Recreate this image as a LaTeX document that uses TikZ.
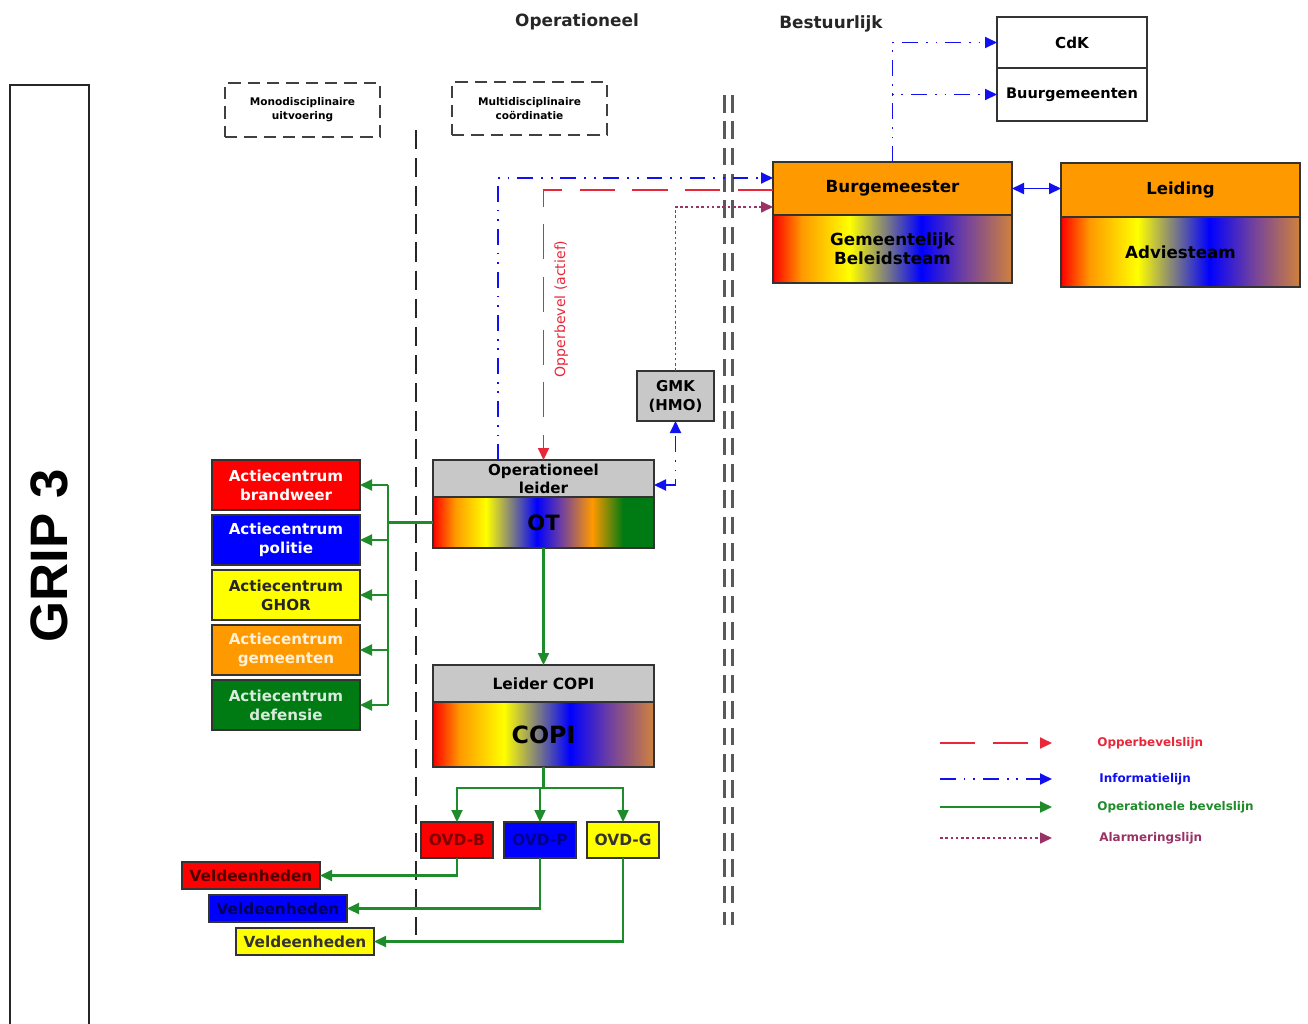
\documentclass[tikz,border=0pt]{standalone}
\usepackage{fontspec}
\setmainfont{DejaVu Sans}
\newfontfamily\gripfont{Liberation Sans}
\usetikzlibrary{arrows.meta}
\usetikzlibrary{positioning}
\newcommand{\txtsize}[2]% size, skip
{\fontsize{#1}{#2}\selectfont}
\definecolor{orng}{HTML}{FF9900}
\definecolor{boxgray}{HTML}{C8C8C8}
\definecolor{acred}{HTML}{FF0000}
\definecolor{acblue}{HTML}{0000FF}
\definecolor{acyellow}{HTML}{FFFF00}
\definecolor{acgreen}{HTML}{007A12}
\definecolor{shpurple}{HTML}{7040A0}
\definecolor{brwn}{HTML}{D0823C}
\definecolor{cmdred}{HTML}{E8283A}
\definecolor{infoblue}{HTML}{1010F0}
\definecolor{opgreen}{HTML}{1E8C2A}
\definecolor{alarmpurple}{HTML}{993366}
\pgfdeclarehorizontalshading{teamshade}{100bp}{color(0bp)=(acred); color(25bp)=(acred); color(31bp)=(orng); color(41bp)=(acyellow); color(56bp)=(acblue); color(65bp)=(shpurple); color(75bp)=(brwn); color(100bp)=(brwn)}
\pgfdeclarehorizontalshading{otshade}{100bp}{color(0bp)=(acred); color(25bp)=(acred); color(30bp)=(orng); color(37bp)=(acyellow); color(48.5bp)=(acblue); color(54bp)=(shpurple); color(61bp)=(orng); color(68bp)=(acgreen); color(100bp)=(acgreen)}

\begin{document}
\begin{tikzpicture}[x=0.2mm, y=-0.2mm, >={Triangle[length=2.4mm,width=2.2mm]},
	box/.style={draw=black!80, line width=1pt, inner sep=0pt, outer sep=0pt, align=center, font=\bfseries\txtsize{8.6}{10.8}},
	acbox/.style={box, minimum width=29.6mm, minimum height=10mm},
	ovdbox/.style={box, minimum width=14.4mm, minimum height=7.2mm, font=\bfseries\txtsize{8.8}{10}},
	veldbox/.style={box, minimum width=27.6mm, minimum height=5.4mm, font=\bfseries\txtsize{8.7}{10}},
	dbox/.style={draw=black!75, line width=1pt, dash pattern=on 7pt off 4pt, inner sep=0pt, align=center, minimum width=31mm, minimum height=10.7mm, font=\bfseries\txtsize{6}{8}},
	head/.style={text=black!85, font=\bfseries\txtsize{9.6}{11}},
	lgd/.style={anchor=west, inner sep=0pt, font=\bfseries\txtsize{6.8}{8}},
	cmdline/.style={draw=cmdred, line width=1.1pt, dash pattern=on 20pt off 10pt, ->},
	infoline/.style={draw=infoblue, line width=1.1pt, dash pattern=on 9pt off 4.5pt on 1pt off 4.5pt on 1pt off 4.5pt, ->},
	opline/.style={draw=opgreen, line width=1.2pt, ->},
	alarmline/.style={draw=alarmpurple, line width=0.9pt, dash pattern=on 1.5pt off 1.5pt, ->}]
	\useasboundingbox (0,0) rectangle (1308,1023);
	\node[draw=black!85, line width=1.1pt, rotate=90, minimum width=188.4mm, minimum height=15.8mm, font=\gripfont\bfseries\txtsize{30}{34}] (grip) at (49.5,556) {GRIP 3};
	\node[head] (hdop) at (577,22) {Operationeel};
	\node[head] (hdbest) at (831,24) {Bestuurlijk};
	\node[dbox] (mono) at (302.5,110) {Monodisciplinaire\\uitvoering};
	\node[dbox] (multi) at (529.5,108.5) {Multidisciplinaire\\coördinatie};
	\draw[black!85, line width=1.1pt, dash pattern=on 11pt off 5pt] (416,130) -- (416,935);
	\draw[black!65, line width=1.7pt, dash pattern=on 10pt off 5pt] (724,95) -- (724,925);
	\draw[black!65, line width=1.7pt, dash pattern=on 10pt off 5pt] (732,95) -- (732,925);
	% bestuurlijk
	\node[box, minimum width=30mm, minimum height=10.2mm, font=\bfseries\txtsize{8.6}{10}] (cdk) at (1072,42.5) {CdK};
	\node[box, minimum width=30mm, minimum height=10.6mm, font=\bfseries\txtsize{8.3}{10}, below=0pt of cdk] (buur) {Buurgemeenten};
	\node[box, fill=orng, minimum width=47.8mm, minimum height=10.6mm, font=\bfseries\txtsize{9.5}{10.8}] (burg) at (892.5,188.5) {Burgemeester};
	\node[box, shade, shading=teamshade, minimum width=47.8mm, minimum height=13.6mm, font=\bfseries\txtsize{9.5}{10.8}, below=0pt of burg] (gbt) {Gemeentelijk\\Beleidsteam};
	\node[box, fill=orng, minimum width=47.8mm, minimum height=10.8mm, font=\bfseries\txtsize{9.4}{10.8}] (leid) at (1180.5,190) {Leiding};
	\node[box, shade, shading=teamshade, minimum width=47.8mm, minimum height=14mm, font=\bfseries\txtsize{9.5}{10.8}, below=0pt of leid] (advies) {Adviesteam};
	% operationeel
	\node[box, fill=boxgray, minimum width=15.4mm, minimum height=10mm, font=\bfseries\txtsize{8.5}{10.8}] (gmk) at (675.5,396) {GMK\\(HMO)};
	\node[box, fill=boxgray, minimum width=44.2mm, minimum height=7.4mm, font=\bfseries\txtsize{8.6}{10.2}] (ol) at (543.5,478.5) {Operationeel\\leider};
	\node[box, shade, shading=otshade, minimum width=44.2mm, minimum height=10.2mm, font=\bfseries\txtsize{12}{14}, below=0pt of ol] (ot) {OT};
	\node[box, fill=boxgray, minimum width=44.2mm, minimum height=7.4mm, font=\bfseries\txtsize{8.8}{10.2}] (lcopi) at (543.5,683.5) {Leider COPI};
	\node[box, shade, shading=teamshade, minimum width=44.2mm, minimum height=13mm, font=\bfseries\txtsize{13.5}{15}, below=0pt of lcopi] (copi) {COPI};
	% actiecentra
	\node[acbox, fill=acred, text=white] (acbrand) at (286,485) {Actiecentrum\\brandweer};%1
	\node[acbox, fill=acblue, text=white, below=1mm of acbrand] (acpol) {Actiecentrum\\politie};%2
	\node[acbox, fill=acyellow, text=black!85, below=1mm of acpol] (acghor) {Actiecentrum\\GHOR};%3
	\node[acbox, fill=orng, text=white!85!orng, below=1mm of acghor] (acgem) {Actiecentrum\\gemeenten};%4
	\node[acbox, fill=acgreen, text=white!85!acgreen, below=1mm of acgem] (acdef) {Actiecentrum\\defensie};%5
	% ovd en veldeenheden
	\node[ovdbox, fill=acred, text=acred!50!black] (ovdb) at (457,840) {OVD-B};
	\node[ovdbox, fill=acblue, text=acblue!55!black, right=2.2mm of ovdb] (ovdp) {OVD-P};
	\node[ovdbox, fill=acyellow, text=black!80, right=2.2mm of ovdp] (ovdg) {OVD-G};
	\node[veldbox, fill=acred, text=acred!30!black] (veldb) at (251,875.5) {Veldeenheden};
	\node[veldbox, fill=acblue, text=acblue!35!black] (veldp) at (278,908.5) {Veldeenheden};
	\node[veldbox, fill=acyellow, text=black!80] (veldg) at (305,941.5) {Veldeenheden};
	% lijnen
	\draw[infoline] ([xshift=13mm]ol.north west) |- ([yshift=2.1mm]burg.west);
	\draw[cmdline] ([yshift=-0.3mm]burg.west) -| node[pos=0.72, rotate=90, anchor=north, inner sep=2mm, text=cmdred, font=\txtsize{8}{9}] (opplbl) {Opperbevel (actief)} (ol.north);
	\draw[alarmline] (gmk.north) |- ([yshift=-3.7mm]burg.west);
	\draw[infoline] (burg.north) |- (cdk.west);
	\draw[infoline] (burg.north) |- (buur.west);
	\draw[infoline, solid, <->] (burg.east) -- (burg.east -| leid.west);
	\draw[infoline, <->] ([yshift=-1.3mm]ol.east) -| (gmk.south);
	\draw[opline] (ot.south) -- (lcopi.north);
	\coordinate (acbus) at ([xshift=-9mm]ot.west);
	\draw[opline, -] (ot.west) -- (acbus);
	\draw[opline, -] (acbus |- acbrand.east) -- (acbus |- acdef.east);
	\draw[opline] (acbus |- acbrand.east) -- (acbrand.east);
	\draw[opline] (acbus |- acpol.east) -- (acpol.east);
	\draw[opline] (acbus |- acghor.east) -- (acghor.east);
	\draw[opline] (acbus |- acgem.east) -- (acgem.east);
	\draw[opline] (acbus |- acdef.east) -- (acdef.east);
	\coordinate (copisplit) at ([yshift=-4.2mm]copi.south);
	\draw[opline, -] (copi.south) -- (copisplit);
	\draw[opline] (copisplit) -| (ovdb.north);
	\draw[opline] (copisplit) -| (ovdp.north);
	\draw[opline] (copisplit) -| (ovdg.north);
	\draw[opline] (ovdb.south) |- (veldb.east);
	\draw[opline] (ovdp.south) |- (veldp.east);
	\draw[opline] (ovdg.south) |- (veldg.east);
	% legenda
	\coordinate (lgs1) at (940,743); \coordinate (lge1) at (1052,743);
	\coordinate (lgs2) at (940,779); \coordinate (lge2) at (1052,779);
	\coordinate (lgs3) at (940,807); \coordinate (lge3) at (1052,807);
	\coordinate (lgs4) at (940,838); \coordinate (lge4) at (1052,838);
	\draw[cmdline] (lgs1) -- (lge1);
	\draw[infoline] (lgs2) -- (lge2);
	\draw[opline] (lgs3) -- (lge3);
	\draw[alarmline] (lgs4) -- (lge4);
	\node[lgd, text=cmdred, right=9mm of lge1] (lgt1) {Opperbevelslijn};
	\node[lgd, text=infoblue, right=9.4mm of lge2] (lgt2) {Informatielijn};
	\node[lgd, text=opgreen, right=9mm of lge3] (lgt3) {Operationele bevelslijn};
	\node[lgd, text=alarmpurple, right=9.4mm of lge4] (lgt4) {Alarmeringslijn};
\end{tikzpicture}
\end{document}
